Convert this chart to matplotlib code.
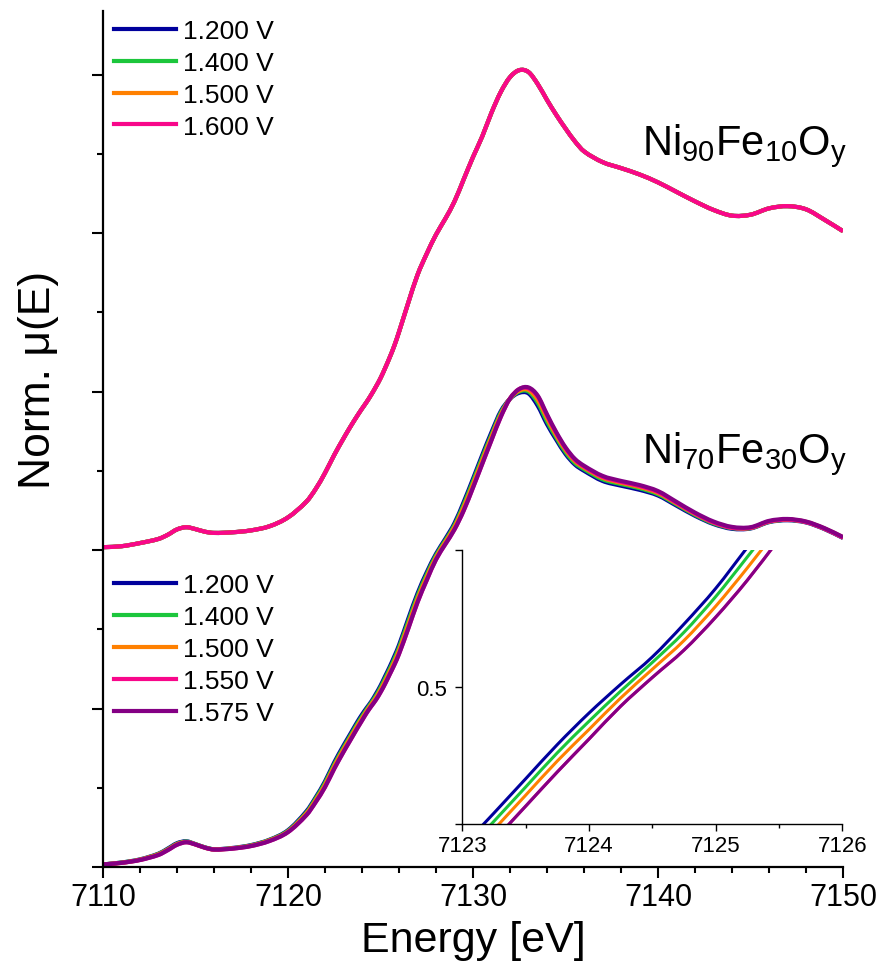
import matplotlib
matplotlib.use('Agg')
import matplotlib.pyplot as plt
from matplotlib.ticker import MultipleLocator
from matplotlib.path import Path
from matplotlib.patches import PathPatch
from matplotlib.lines import Line2D

plt.rcParams['font.family'] = ['Liberation Sans', 'DejaVu Sans']
plt.rcParams['mathtext.default'] = 'regular'

# energy grid [eV], denser around the zoomed edge region
energy = [7110, 7111, 7112, 7113, 7113.5, 7114, 7114.5, 7115, 7115.5, 7116,
          7117, 7118, 7119, 7120, 7121, 7121.5, 7122, 7122.5, 7123, 7123.25,
          7123.5, 7123.75, 7124, 7124.25, 7124.5, 7124.75, 7125, 7125.25, 7125.5, 7125.75,
          7126, 7126.5, 7127, 7127.5, 7128, 7128.5, 7129, 7129.5, 7130, 7130.5,
          7131, 7131.5, 7132, 7132.5, 7133, 7133.5, 7134, 7134.5, 7135, 7135.5,
          7136, 7137, 7138, 7139, 7140, 7141, 7142, 7143, 7144, 7145,
          7146, 7147, 7148, 7149, 7150]

# Ni90Fe10Oy - the four potentials lie on top of each other
ni90_mu = [0.009, 0.012, 0.022, 0.035, 0.048, 0.065, 0.072, 0.066, 0.058, 0.054,
           0.056, 0.062, 0.075, 0.103, 0.153, 0.193, 0.243, 0.300, 0.352, 0.377,
           0.401, 0.424, 0.446, 0.467, 0.490, 0.515, 0.542, 0.574, 0.608, 0.645,
           0.688, 0.780, 0.868, 0.935, 0.995, 1.045, 1.100, 1.170, 1.240, 1.305,
           1.380, 1.445, 1.492, 1.514, 1.508, 1.470, 1.420, 1.373, 1.330, 1.290,
           1.258, 1.224, 1.205, 1.185, 1.160, 1.130, 1.100, 1.073, 1.055, 1.058,
           1.078, 1.085, 1.075, 1.042, 1.006]

# Ni70Fe30Oy
ni70_1200 = [0.008, 0.014, 0.024, 0.042, 0.058, 0.075, 0.081, 0.072, 0.062, 0.056,
             0.060, 0.069, 0.086, 0.116, 0.176, 0.220, 0.270, 0.330, 0.383, 0.408,
             0.433, 0.458, 0.481, 0.502, 0.522, 0.546, 0.572, 0.602, 0.632, 0.665,
             0.700, 0.783, 0.863, 0.930, 0.988, 1.035, 1.085, 1.152, 1.225, 1.300,
             1.372, 1.438, 1.477, 1.496, 1.494, 1.455, 1.397, 1.348, 1.303, 1.270,
             1.250, 1.218, 1.203, 1.190, 1.172, 1.140, 1.108, 1.082, 1.067, 1.068,
             1.088, 1.094, 1.087, 1.066, 1.038]
ni70_1400 = [0.008, 0.014, 0.023, 0.041, 0.056, 0.073, 0.080, 0.072, 0.062, 0.056,
             0.059, 0.068, 0.085, 0.114, 0.172, 0.216, 0.265, 0.324, 0.377, 0.402,
             0.427, 0.452, 0.475, 0.497, 0.518, 0.540, 0.566, 0.595, 0.625, 0.657,
             0.692, 0.774, 0.855, 0.923, 0.983, 1.030, 1.079, 1.144, 1.217, 1.292,
             1.364, 1.433, 1.477, 1.500, 1.500, 1.465, 1.406, 1.355, 1.309, 1.275,
             1.255, 1.223, 1.208, 1.195, 1.176, 1.144, 1.111, 1.084, 1.069, 1.069,
             1.089, 1.095, 1.088, 1.067, 1.039]
ni70_1500 = [0.008, 0.013, 0.023, 0.040, 0.055, 0.072, 0.079, 0.071, 0.061, 0.055,
             0.059, 0.067, 0.084, 0.112, 0.169, 0.211, 0.259, 0.318, 0.371, 0.396,
             0.421, 0.446, 0.469, 0.492, 0.513, 0.534, 0.559, 0.587, 0.617, 0.648,
             0.683, 0.764, 0.846, 0.915, 0.977, 1.025, 1.073, 1.136, 1.208, 1.283,
             1.357, 1.427, 1.478, 1.503, 1.505, 1.474, 1.416, 1.362, 1.316, 1.281,
             1.260, 1.228, 1.212, 1.199, 1.180, 1.147, 1.114, 1.087, 1.071, 1.070,
             1.090, 1.096, 1.089, 1.068, 1.040]
ni70_1550 = [0.008, 0.013, 0.022, 0.038, 0.053, 0.070, 0.078, 0.071, 0.061, 0.055,
             0.058, 0.066, 0.082, 0.110, 0.164, 0.205, 0.252, 0.310, 0.363, 0.388,
             0.413, 0.438, 0.462, 0.486, 0.507, 0.527, 0.551, 0.578, 0.608, 0.638,
             0.672, 0.752, 0.835, 0.905, 0.970, 1.018, 1.065, 1.125, 1.197, 1.272,
             1.347, 1.420, 1.478, 1.508, 1.510, 1.484, 1.425, 1.369, 1.321, 1.285,
             1.263, 1.231, 1.215, 1.202, 1.183, 1.149, 1.115, 1.087, 1.070, 1.070,
             1.090, 1.096, 1.088, 1.067, 1.039]
ni70_1575 = [0.008, 0.013, 0.022, 0.038, 0.053, 0.070, 0.078, 0.071, 0.061, 0.055,
             0.058, 0.066, 0.082, 0.110, 0.164, 0.205, 0.252, 0.310, 0.363, 0.388,
             0.413, 0.438, 0.462, 0.486, 0.507, 0.527, 0.551, 0.578, 0.608, 0.638,
             0.672, 0.752, 0.835, 0.905, 0.970, 1.018, 1.065, 1.125, 1.197, 1.272,
             1.347, 1.420, 1.478, 1.508, 1.513, 1.487, 1.428, 1.372, 1.324, 1.288,
             1.266, 1.234, 1.218, 1.205, 1.186, 1.152, 1.118, 1.090, 1.073, 1.072,
             1.092, 1.098, 1.090, 1.069, 1.041]

labels_90 = ['1.200 V', '1.400 V', '1.500 V', '1.600 V']
colors_90 = ['#00009c', '#1cc63c', '#ff8000', '#f8078a']
labels_70 = ['1.200 V', '1.400 V', '1.500 V', '1.550 V', '1.575 V']
colors_70 = ['#00009c', '#1cc63c', '#ff8000', '#f8078a', '#840084']
series_70 = [ni70_1200, ni70_1400, ni70_1500, ni70_1550, ni70_1575]
offset_90 = 1.0


def smooth_path(x, y):
    # spline connection (cubic Hermite segments as Bezier curves), like Origin's
    n = len(x)
    slopes = []
    for i in range(n):
        a, b = max(i - 1, 0), min(i + 1, n - 1)
        slopes.append((y[b] - y[a]) / (x[b] - x[a]))
    verts = [(x[0], y[0])]
    codes = [Path.MOVETO]
    for i in range(n - 1):
        h = x[i + 1] - x[i]
        verts += [(x[i] + h / 3, y[i] + slopes[i] * h / 3),
                  (x[i + 1] - h / 3, y[i + 1] - slopes[i + 1] * h / 3),
                  (x[i + 1], y[i + 1])]
        codes += [Path.CURVE4] * 3
    return Path(verts, codes)


def draw(axis, x, y, col, lw):
    axis.add_patch(PathPatch(smooth_path(x, y), fill=False, edgecolor=col,
                             lw=lw, joinstyle='round', capstyle='butt'))


fig = plt.figure(figsize=(8.8, 9.78), dpi=100)
ax = fig.add_axes([0.117, 0.1125, 0.841, 0.875])

for col in colors_90:
    draw(ax, energy, [m + offset_90 for m in ni90_mu], col, 3)
for mu, col in zip(series_70, colors_70):
    draw(ax, energy, mu, col, 3)

ax.set_xlim(7110, 7150)
ax.set_ylim(0, 2.7)
ax.xaxis.set_major_locator(MultipleLocator(10))
ax.xaxis.set_minor_locator(MultipleLocator(2))
ax.yaxis.set_major_locator(MultipleLocator(0.5))
ax.yaxis.set_minor_locator(MultipleLocator(0.25))
ax.set_yticklabels([])
ax.tick_params(which='both', direction='out', width=1.5)
ax.tick_params(which='major', length=8, labelsize=22, pad=3)
ax.tick_params(which='minor', length=4.5)
for s in ['top', 'right']:
    ax.spines[s].set_visible(False)
for s in ['left', 'bottom']:
    ax.spines[s].set_linewidth(1.6)

ax.set_xlabel('Energy [eV]', fontsize=31)
ax.xaxis.set_label_coords(0.5, -0.062)
ax.set_ylabel('Norm. μ(E)', fontsize=32)
ax.yaxis.set_label_coords(-0.06, 0.57)

ax.text(1.006, 0.833, 'Ni$_{90}$Fe$_{10}$O$_{y}$', transform=ax.transAxes,
        ha='right', va='baseline', fontsize=30)
ax.text(1.006, 0.473, 'Ni$_{70}$Fe$_{30}$O$_{y}$', transform=ax.transAxes,
        ha='right', va='baseline', fontsize=30)

leg_kw = dict(frameon=False, fontsize=19, handlelength=2.35, handletextpad=0.27,
              labelspacing=0.3, borderpad=0, borderaxespad=0, loc='upper left')
upper = [Line2D([], [], color=c, lw=3) for c in colors_90]
lower = [Line2D([], [], color=c, lw=3) for c in colors_70]
leg1 = ax.legend(upper, labels_90, bbox_to_anchor=(0.015, 0.991), **leg_kw)
ax.add_artist(leg1)
ax.legend(lower, labels_70, bbox_to_anchor=(0.015, 0.343), **leg_kw)

# inset with the edge region zoomed in
axins = fig.add_axes([0.5253, 0.1564, 0.4318, 0.280])
for mu, col in zip(series_70, colors_70):
    draw(axins, energy, mu, col, 2.2)
axins.set_xlim(7123, 7126)
axins.set_ylim(0.4, 0.6)
axins.xaxis.set_major_locator(MultipleLocator(1))
axins.xaxis.set_minor_locator(MultipleLocator(0.5))
axins.set_yticks([0.4, 0.5, 0.6])
axins.set_yticklabels(['', '0.5', ''])
axins.tick_params(which='both', direction='out', width=1)
axins.tick_params(which='major', length=5, labelsize=16, pad=3)
axins.tick_params(axis='y', pad=6)
axins.tick_params(which='minor', length=3)
for s in ['top', 'right']:
    axins.spines[s].set_visible(False)
for s in ['left', 'bottom']:
    axins.spines[s].set_linewidth(1.0)

fig.savefig('out.png', dpi=100)
